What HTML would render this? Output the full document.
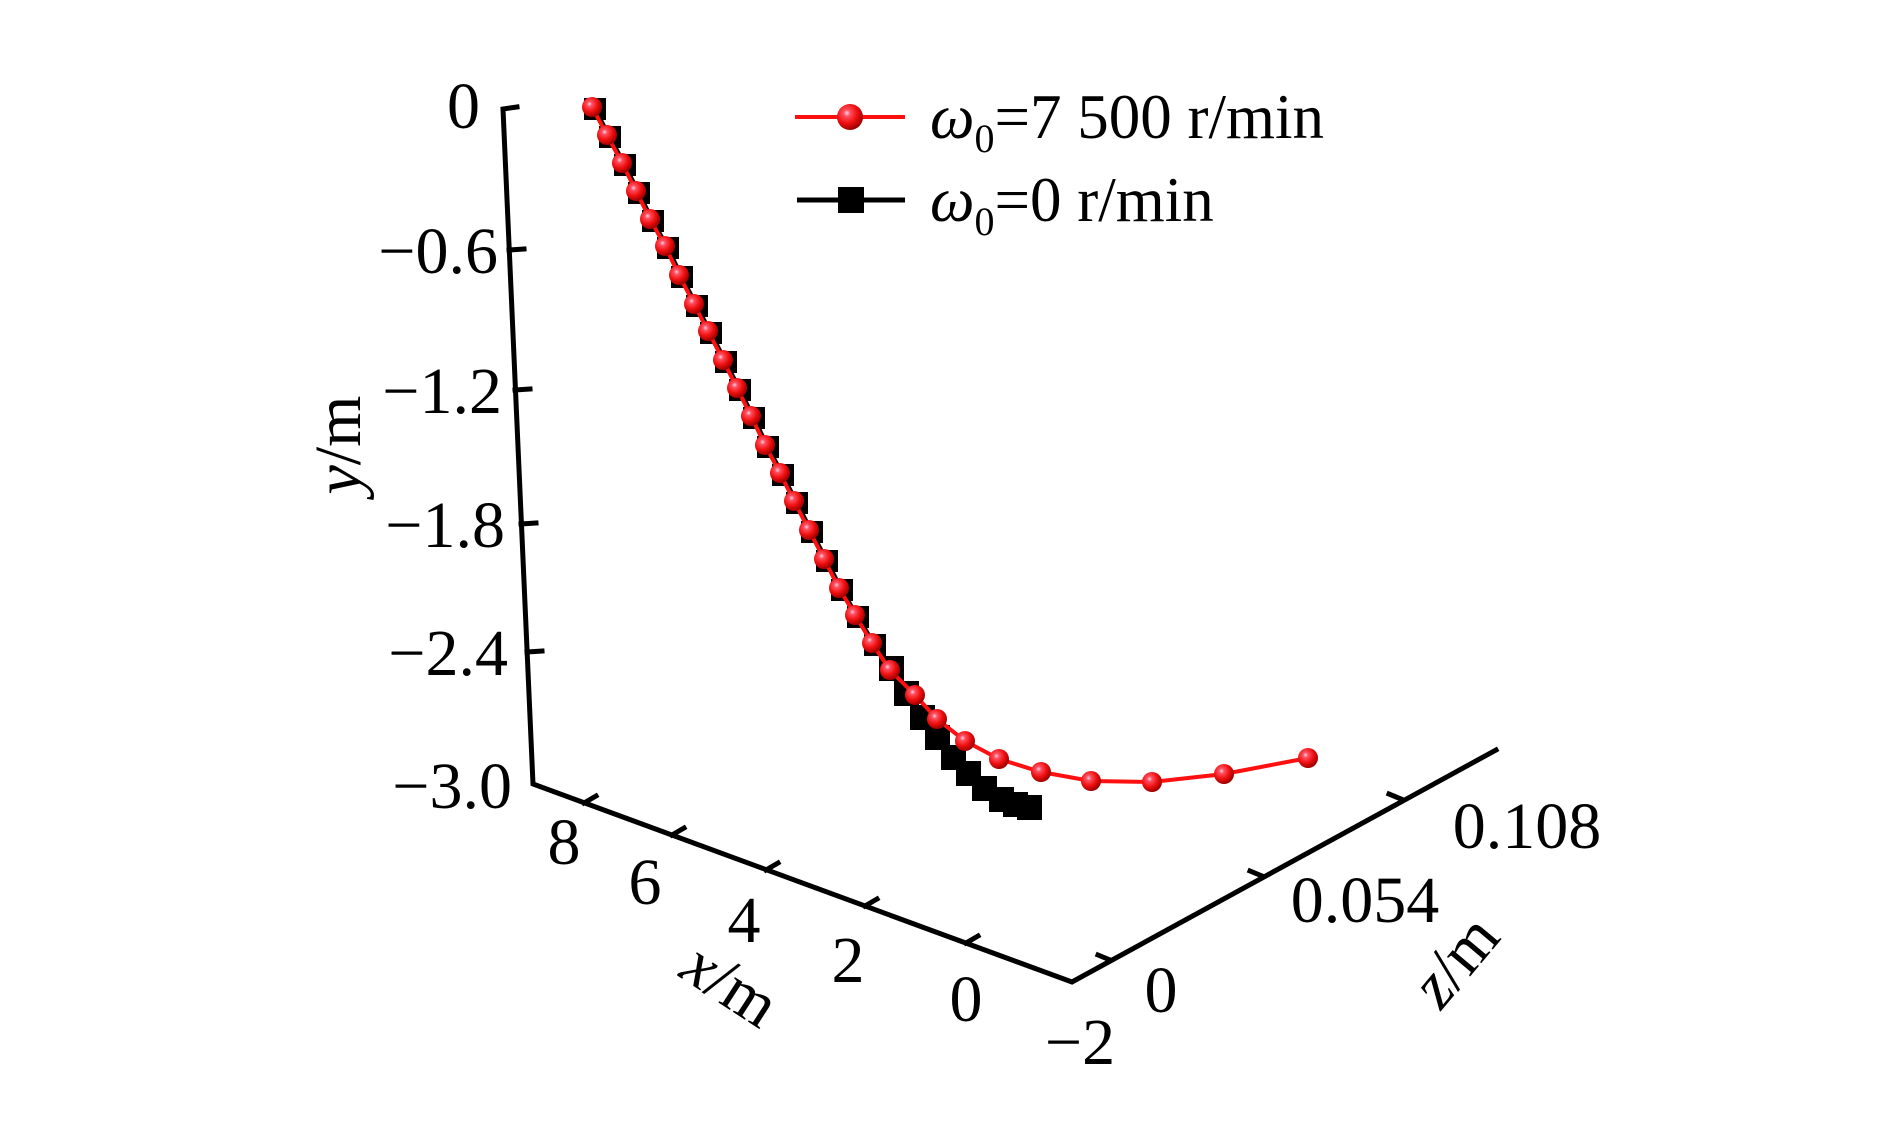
<!DOCTYPE html>
<html><head><meta charset="utf-8"><style>
html,body{margin:0;padding:0;background:#fff}
svg{display:block}
text{font-family:"Liberation Serif",serif;fill:#000}
</style></head><body>
<svg width="1890" height="1133" viewBox="0 0 1890 1133" xmlns="http://www.w3.org/2000/svg">
<defs>
<radialGradient id="ball" cx="0.38" cy="0.35" r="0.65">
<stop offset="0" stop-color="#ffd0e8"/>
<stop offset="0.2" stop-color="#ff5060"/>
<stop offset="0.6" stop-color="#f01010"/>
<stop offset="1" stop-color="#a00000"/>
</radialGradient>
</defs>
<g stroke="#000" stroke-width="5" fill="none" stroke-linecap="square">
<path d="M517,107 L503,109 L533,784 L1072,982 L1496,750"/>
<path d="M509,250 L524,249 M515,390 L530,389 M521,524 L536,523 M527,652 L542,651"/>
<path d="M584,803 L596,796 M672,835 L684,828 M766,870 L778,863 M865,906 L877,899 M966,943 L978,936"/>
<path d="M1110,960 L1098,955 M1262,876 L1250,871 M1401,799 L1389,794"/>
</g>
<g font-size="66" text-anchor="end">
<text x="480" y="128">0</text>
<text x="498" y="273">−0.6</text>
<text x="502" y="413">−1.2</text>
<text x="505" y="547">−1.8</text>
<text x="508" y="675">−2.4</text>
<text x="512" y="808">−3.0</text>
</g>
<g font-size="66" text-anchor="middle">
<text x="564" y="864">8</text>
<text x="645" y="904">6</text>
<text x="744" y="942">4</text>
<text x="848" y="982">2</text>
<text x="966" y="1021">0</text>
<text x="1080" y="1064">−2</text>
<text x="1161" y="1012">0</text>
<text x="1365" y="922">0.054</text>
<text x="1527" y="848">0.108</text>
</g>
<text font-size="66" transform="translate(345,445) rotate(-90)" text-anchor="middle" dominant-baseline="middle"><tspan font-style="italic">y</tspan>/m</text>
<text font-size="66" transform="translate(727,990) rotate(33)" text-anchor="middle" dominant-baseline="middle"><tspan font-style="italic">x</tspan>/m</text>
<text font-size="66" transform="translate(1460,965) rotate(-50)" text-anchor="middle" dominant-baseline="middle"><tspan font-style="italic">z</tspan>/m</text>
<polyline fill="none" stroke="#000" stroke-width="4" points="595,109 610,137 625,165 639,193 653,221 668,248 682,277 697,306 711,333 726,362 740,390 754,418 768,447 783,475 797,503 812,532 827,561 842,590 858,617 875,645 892,670 907,695 923,719 938,739 954,759 969,775 985,790 1002,800 1018,805 1030,808"/>
<g fill="#000">
<rect x="584" y="98" width="22" height="22"/><rect x="599" y="126" width="22" height="22"/><rect x="614" y="154" width="22" height="22"/><rect x="628" y="182" width="22" height="22"/><rect x="642" y="210" width="22" height="22"/><rect x="657" y="237" width="22" height="22"/><rect x="671" y="266" width="22" height="22"/><rect x="686" y="295" width="22" height="22"/><rect x="700" y="322" width="22" height="22"/><rect x="715" y="351" width="22" height="22"/><rect x="729" y="379" width="22" height="22"/><rect x="743" y="407" width="22" height="22"/><rect x="757" y="436" width="22" height="22"/><rect x="772" y="464" width="22" height="22"/><rect x="786" y="492" width="22" height="22"/><rect x="801" y="521" width="22" height="22"/><rect x="816" y="550" width="22" height="22"/><rect x="831" y="579" width="22" height="22"/><rect x="847" y="606" width="22" height="22"/><rect x="864" y="634" width="22" height="22"/>
<rect x="879" y="656" width="25" height="25"/><rect x="894" y="681" width="25" height="25"/><rect x="910" y="705" width="25" height="25"/><rect x="925" y="725" width="25" height="25"/><rect x="941" y="745" width="25" height="25"/><rect x="956" y="761" width="25" height="25"/><rect x="972" y="776" width="25" height="25"/><rect x="989" y="787" width="25" height="25"/><rect x="1003" y="792" width="25" height="25"/><rect x="1017" y="795" width="25" height="25"/>
</g>
<polyline fill="none" stroke="#ff1010" stroke-width="4" points="592,107 607,135 622,163 636,191 650,219 665,246 679,275 694,304 708,331 723,360 737,388 751,416 765,445 780,473 794,501 809,530 824,559 839,588 855,615 872,643 890,670 915,695 937,719 965,741 999,759 1041,772 1091,781 1152,782 1224,774 1308,758"/>
<g fill="url(#ball)">
<circle cx="592" cy="107" r="10"/><circle cx="607" cy="135" r="10"/><circle cx="622" cy="163" r="10"/><circle cx="636" cy="191" r="10"/><circle cx="650" cy="219" r="10"/><circle cx="665" cy="246" r="10"/><circle cx="679" cy="275" r="10"/><circle cx="694" cy="304" r="10"/><circle cx="708" cy="331" r="10"/><circle cx="723" cy="360" r="10"/><circle cx="737" cy="388" r="10"/><circle cx="751" cy="416" r="10"/><circle cx="765" cy="445" r="10"/><circle cx="780" cy="473" r="10"/><circle cx="794" cy="501" r="10"/><circle cx="809" cy="530" r="10"/><circle cx="824" cy="559" r="10"/><circle cx="839" cy="588" r="10"/><circle cx="855" cy="615" r="10"/><circle cx="872" cy="643" r="10"/><circle cx="890" cy="670" r="10"/><circle cx="915" cy="695" r="10"/><circle cx="937" cy="719" r="10"/><circle cx="965" cy="741" r="10"/><circle cx="999" cy="759" r="10"/><circle cx="1041" cy="772" r="10"/><circle cx="1091" cy="781" r="10"/><circle cx="1152" cy="782" r="10"/><circle cx="1224" cy="774" r="10"/><circle cx="1308" cy="758" r="10"/>
</g>
<line x1="795" y1="117" x2="905" y2="117" stroke="#ff1010" stroke-width="4"/>
<circle cx="850" cy="117" r="13" fill="url(#ball)"/>
<line x1="797" y1="200" x2="905" y2="200" stroke="#000" stroke-width="5"/>
<rect x="838" y="187" width="26" height="26" fill="#000"/>
<text x="930" y="138" font-size="63"><tspan font-style="italic">ω</tspan><tspan font-size="40" dy="14">0</tspan><tspan dy="-14">=7 500 r/min</tspan></text>
<text x="930" y="221" font-size="63"><tspan font-style="italic">ω</tspan><tspan font-size="40" dy="14">0</tspan><tspan dy="-14">=0 r/min</tspan></text>
</svg>
</body></html>
